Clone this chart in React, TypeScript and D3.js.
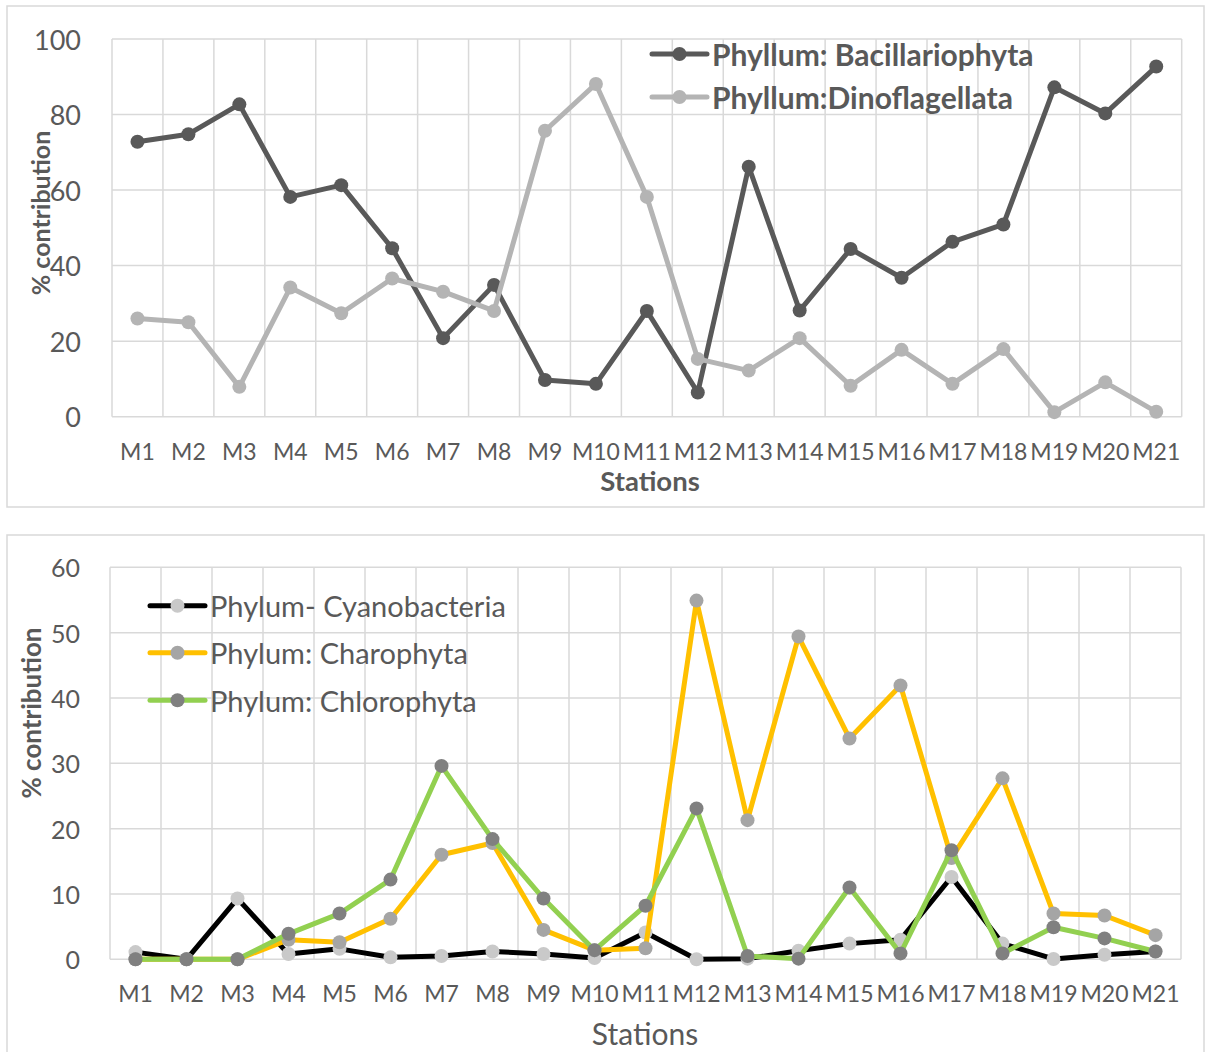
import React from "react";
import * as d3 from "d3";

const stations = ["M1","M2","M3","M4","M5","M6","M7","M8","M9","M10","M11","M12","M13","M14","M15","M16","M17","M18","M19","M20","M21"];

const bacillariophyta = [72.8,74.8,82.7,58.2,61.3,44.6,20.8,34.9,9.7,8.7,28.0,6.4,66.2,28.1,44.4,36.8,46.3,50.9,87.2,80.3,92.7];
const dinoflagellata = [26.0,25.0,7.9,34.2,27.4,36.6,33.1,28.0,75.7,88.1,58.2,15.3,12.2,20.8,8.2,17.7,8.7,17.9,1.2,9.1,1.3];

const cyanobacteria = [1.1,0,9.3,0.8,1.6,0.3,0.5,1.2,0.8,0.2,4.1,0,0.1,1.3,2.4,3.0,12.6,2.4,0.05,0.7,1.2];
const charophyta = [0,0,0,3.0,2.6,6.2,16.0,17.8,4.5,1.4,1.7,54.9,21.3,49.4,33.8,41.9,15.5,27.7,7.0,6.7,3.7];
const chlorophyta = [0,0,0,3.9,7.0,12.2,29.6,18.4,9.3,1.4,8.2,23.1,0.5,0.1,11.0,0.9,16.7,0.9,4.9,3.2,1.2];

const topTicks = [0,20,40,60,80,100];
const bottomTicks = [0,10,20,30,40,50,60];

const FONT = "Lato, 'Open Sans', sans-serif";
const GRID = "#d9d9d9";
const TEXT = "#595959";

type Series = { name: string; values: number[]; line: string; marker: string };

const topSeries: Series[] = [
  { name: "Phyllum: Bacillariophyta", values: bacillariophyta, line: "#595959", marker: "#595959" },
  { name: "Phyllum:Dinoflagellata", values: dinoflagellata, line: "#b4b4b4", marker: "#b4b4b4" },
];

const bottomSeries: Series[] = [
  { name: "Phylum- Cyanobacteria", values: cyanobacteria, line: "#000000", marker: "#c9c9c9" },
  { name: "Phylum: Charophyta", values: charophyta, line: "#ffc000", marker: "#a5a5a5" },
  { name: "Phylum: Chlorophyta", values: chlorophyta, line: "#92d050", marker: "#808080" },
];

type PanelProps = {
  left: number; right: number; top: number; bottom: number;
  yMax: number; ticks: number[]; series: Series[];
  tickSize: number; tickRight: number; labelBaseline: number;
  yTitleX: number; yTitleY: number; yTitleSize: number;
  xTitleY: number; xTitleSize: number; xTitleBold: boolean; xTitleX: number;
  legendX: number; legendY: number[]; legendSize: number; legendBold: boolean;
};

function Panel(p: PanelProps) {
  const x = d3.scaleBand<string>().domain(stations).range([p.left, p.right]).paddingInner(0).paddingOuter(0);
  const y = d3.scaleLinear().domain([0, p.yMax]).range([p.bottom, p.top]);
  const cx = (s: string) => (x(s) as number) + x.bandwidth() / 2;
  const line = d3.line<number>().x((_, i) => cx(stations[i])).y((v) => y(v));
  const edges = stations.map((s) => x(s) as number).concat([p.right]);
  return (
    <g>
      {p.ticks.map((t) => (
        <line key={"h" + t} x1={p.left} x2={p.right} y1={y(t)} y2={y(t)} stroke={GRID} strokeWidth={1.5} />
      ))}
      {edges.map((e, i) => (
        <line key={"v" + i} x1={e} x2={e} y1={p.top} y2={p.bottom} stroke={GRID} strokeWidth={1.5} />
      ))}
      {p.ticks.map((t) => (
        <text key={"t" + t} x={p.tickRight} y={y(t)} textAnchor="end" dominantBaseline="central"
          fontFamily={FONT} fontSize={p.tickSize} fill={TEXT}>{t}</text>
      ))}
      {stations.map((s) => (
        <text key={"x" + s} x={cx(s)} y={p.labelBaseline} textAnchor="middle"
          fontFamily={FONT} fontSize={23} fill={TEXT}>{s}</text>
      ))}
      <text transform={`translate(${p.yTitleX},${p.yTitleY}) rotate(-90)`} textAnchor="middle"
        dominantBaseline="central" fontFamily={FONT} fontWeight="bold" fontSize={p.yTitleSize} fill={TEXT}>% contribution</text>
      <text x={p.xTitleX} y={p.xTitleY} textAnchor="middle" fontFamily={FONT}
        fontWeight={p.xTitleBold ? "bold" : "normal"} fontSize={p.xTitleSize} fill={TEXT}>Stations</text>
      {p.series.map((s) => (
        <g key={s.name}>
          <path d={line(s.values) as string} fill="none" stroke={s.line} strokeWidth={5} strokeLinejoin="round" />
          {s.values.map((v, i) => (
            <circle key={i} cx={cx(stations[i])} cy={y(v)} r={7} fill={s.marker} />
          ))}
        </g>
      ))}
      {p.series.map((s, i) => (
        <g key={"lg" + s.name}>
          <line x1={p.legendX} x2={p.legendX + 55} y1={p.legendY[i]} y2={p.legendY[i]} stroke={s.line} strokeWidth={5} strokeLinecap="round" />
          <circle cx={p.legendX + 27.5} cy={p.legendY[i]} r={7} fill={s.marker} />
          <text x={p.legendX + 60} y={p.legendY[i]} dominantBaseline="central" fontFamily={FONT}
            fontWeight={p.legendBold ? "bold" : "normal"} fontSize={p.legendSize} fill={TEXT}>{s.name}</text>
        </g>
      ))}
    </g>
  );
}

export default function App() {
  return (
    <svg width={1205} height={1052} style={{ position: "absolute", left: 0, top: 0, background: "#fff" }}>
      <rect x={0} y={0} width={1205} height={1052} fill="#fff" />
      <rect x={7} y={6} width={1197} height={501} fill="#fff" stroke={GRID} strokeWidth={1.5} />
      <rect x={7} y={535} width={1197} height={530} fill="#fff" stroke={GRID} strokeWidth={1.5} />
      <Panel left={112} right={1181.7} top={39} bottom={416.7} yMax={100} ticks={topTicks}
        series={topSeries} tickSize={27} tickRight={81} labelBaseline={459.5}
        yTitleX={40} yTitleY={213} yTitleSize={25}
        xTitleX={650} xTitleY={490.5} xTitleSize={27.5} xTitleBold={true}
        legendX={652} legendY={[54, 97]} legendSize={30} legendBold={true} />
      <Panel left={110} right={1181} top={567.3} bottom={959.3} yMax={60} ticks={bottomTicks}
        series={bottomSeries} tickSize={25} tickRight={80} labelBaseline={1002}
        yTitleX={31} yTitleY={713} yTitleSize={26}
        xTitleX={645} xTitleY={1045} xTitleSize={30} xTitleBold={false}
        legendX={150} legendY={[605.7, 652.7, 700.3]} legendSize={29} legendBold={false} />
    </svg>
  );
}
